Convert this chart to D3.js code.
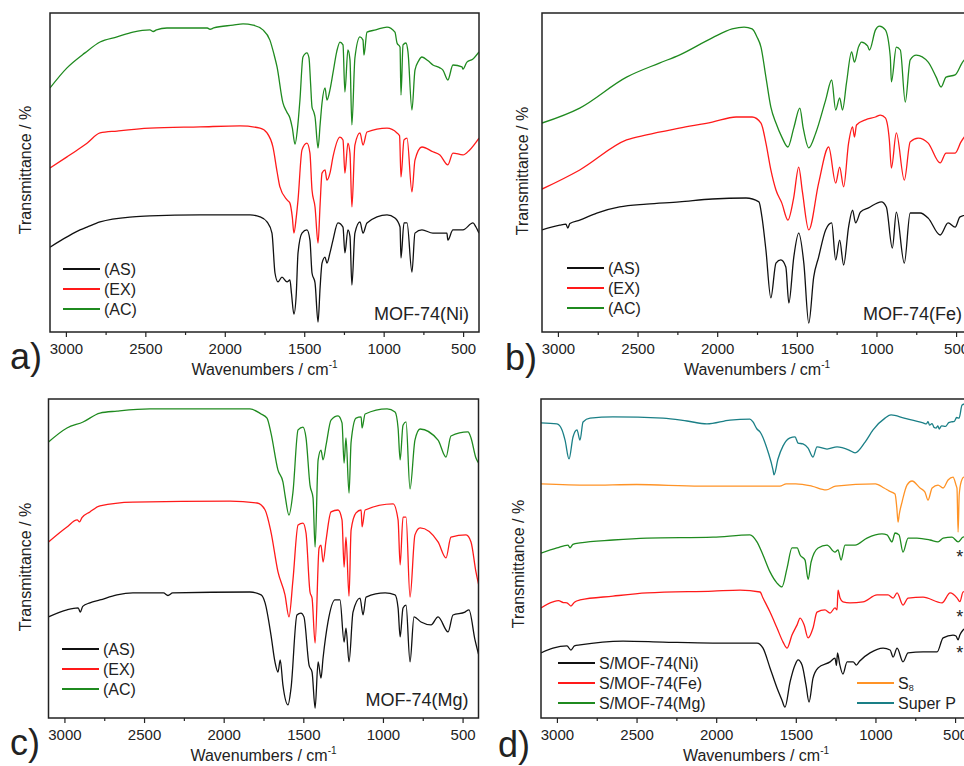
<!DOCTYPE html>
<html>
<head>
<meta charset="utf-8">
<script src="https://cdn.jsdelivr.net/npm/d3@7"></script>
<style>
  body { margin: 0; background: #fff; }
  svg { display: block; }
  text { font-family: "Liberation Sans", Arial, Helvetica, sans-serif; fill: #222; }
</style>
</head>
<body>
<svg id="chart" width="964" height="766"></svg>
<script>
// FTIR spectra: [wavenumber (cm-1), transmittance (offset, a.u.)]
const wavenumberDomain = [3100, 400];
const majorTicks = [3000, 2500, 2000, 1500, 1000, 500];
const minorTicks = [2750, 2250, 1750, 1250, 750];

// a) MOF-74(Ni)
const niAS = [[3100,26.6],[2993,29.8],[2911,32],[2867,32.9],[2785,34.5],[2578,36.1],[2471,36.4],[2156,36.7],[1841,36.7],[1778,36.1],[1734,34.5],[1703,31],[1684,18.5],[1665,15.7],[1640,17.2],[1608,15.7],[1590,16.3],[1580,12],[1565,5.6],[1550,12],[1539,24.8],[1514,31],[1483,32],[1464,28.8],[1451,18.5],[1432,15.4],[1413,3.1],[1400,14],[1388,21.6],[1369,23.5],[1357,21.6],[1338,24.8],[1319,28.8],[1288,34.2],[1256,32.9],[1244,24.8],[1225,32],[1212,30],[1200,14.7],[1181,31],[1149,34.5],[1130,31],[1105,34.2],[979,36.7],[929,35.7],[897,32.9],[891,23.2],[872,34.2],[853,34.2],[822,18.8],[803,31],[759,32],[690,31],[602,31],[596,28.8],[564,32],[501,32],[438,34.2],[420,33],[400,31]];
const niEX = [[3100,51.4],[2993,54.9],[2930,57],[2867,59.2],[2785,62.4],[2678,63],[2471,63.9],[2156,64.3],[1904,64.6],[1778,63.9],[1734,62.4],[1697,58],[1670,50],[1653,45.5],[1608,41.4],[1590,40.4],[1575,36],[1565,31],[1550,36],[1539,41.4],[1514,57.1],[1483,59.2],[1464,56.1],[1451,44.5],[1432,39.2],[1413,27.9],[1400,40],[1388,49.8],[1369,50.8],[1357,47.6],[1338,49.8],[1319,54.9],[1275,61.1],[1256,60.2],[1244,49.8],[1225,59.2],[1212,56],[1200,39.2],[1181,58.6],[1149,62.4],[1130,58.6],[1105,62.7],[979,63.9],[916,62.4],[900,61.5],[891,48.6],[872,60.2],[853,60.8],[822,43.9],[803,53.9],[759,58],[690,56.5],[646,55.5],[596,52.4],[564,56.1],[501,55.5],[460,57],[400,60.8]];
const niAC = [[3100,76.5],[2993,82.8],[2880,87.5],[2785,90.9],[2678,92.5],[2578,94.0],[2471,94.7],[2450,94.2],[2430,94.7],[2364,95.3],[2200,95.3],[2110,95.3],[2093,94.9],[2070,95.3],[1948,96.2],[1885,96.6],[1822,96.2],[1760,94.7],[1716,91.5],[1690,87],[1671,83.1],[1634,71.8],[1610,69],[1590,67.1],[1575,64],[1558,58.9],[1540,65],[1527,72.7],[1508,86.2],[1483,87.5],[1470,85.9],[1460,78],[1451,70.5],[1440,69],[1432,67.4],[1413,57.7],[1400,65],[1388,71.8],[1369,76.5],[1357,72.7],[1338,75.9],[1319,81.2],[1295,88],[1275,90.9],[1256,90.0],[1244,75.2],[1225,88.4],[1212,85.3],[1200,64.9],[1181,85.9],[1149,92.5],[1130,91.5],[1124,86.8],[1105,94.0],[1050,94.7],[979,95.6],[929,94.0],[916,90.6],[897,89.3],[891,74.3],[878,90.0],[860,90.6],[847,87.8],[822,69.6],[803,82.1],[780,85],[759,86.2],[720,85],[690,83.7],[646,82.8],[627,82.1],[596,79.0],[564,83.7],[507,83.1],[501,82.4],[476,84.6],[440,85.5],[400,87.8]];

// b) MOF-74(Fe)
const feAS = [[3100,32.0],[2988,33.5],[2950,33.8],[2938,32.6],[2925,34],[2863,35.1],[2756,37.3],[2613,39.2],[2444,40.1],[2238,40.8],[2031,41.7],[1819,42.0],[1738,40.8],[1719,36.1],[1694,25.7],[1663,10.7],[1631,21.6],[1600,22.6],[1569,20.4],[1550,9.1],[1519,23.5],[1488,31.0],[1456,21.6],[1425,2.8],[1394,17.2],[1363,23.5],[1319,32.0],[1281,34.2],[1256,22.6],[1231,28.8],[1206,21.0],[1175,32.9],[1150,38.2],[1131,34.2],[1100,37.6],[1050,38.9],[969,40.8],[938,39.2],[900,26.3],[875,37.6],[825,21.6],[788,37.3],[725,37.3],[675,35.7],[600,30.4],[550,34.2],[506,32.9],[475,36.1],[400,37]];
const feEX = [[3100,44.8],[2863,50.8],[2569,60.2],[2444,61.8],[2238,63.9],[2031,65.8],[1881,67.4],[1781,67.4],[1725,65.5],[1694,59.2],[1663,50.8],[1631,44.5],[1594,40.4],[1556,35.1],[1520,42],[1488,51.7],[1465,44],[1425,32.0],[1363,46.7],[1300,58.0],[1256,46.7],[1231,51.7],[1206,45.5],[1175,59.2],[1150,64.3],[1138,61.1],[1125,64.9],[1069,66.5],[1006,67.4],[975,68.0],[944,67.1],[919,60.2],[906,51.4],[875,62.4],[825,47.6],[788,59.6],[738,60.8],[675,59.2],[600,53.0],[563,56.1],[506,56.1],[469,59.6],[400,64]];
const feAC = [[3100,65.5],[2863,70.2],[2569,79.9],[2363,84.3],[2238,86.8],[2031,92.2],[1906,95],[1831,95.6],[1781,95],[1750,92.5],[1725,89.3],[1694,79.9],[1663,70.5],[1631,65.5],[1594,61.1],[1556,58],[1519,64],[1481,70.2],[1460,64],[1425,57.7],[1381,62.4],[1319,72.7],[1281,79],[1256,69.6],[1231,73.4],[1213,69.6],[1188,78.1],[1156,87.8],[1138,84.6],[1113,89.3],[1094,90.9],[1056,89.7],[1044,88.4],[1006,94.7],[981,95.9],[944,94.7],[913,86.2],[906,78.4],[875,89.3],[850,88.4],[819,72.1],[788,85.3],[750,86.8],[675,84.6],[625,79.9],[594,76.8],[563,79.9],[506,80.6],[463,84.3],[400,88]];

// c) MOF-74(Mg)
const mgAS = [[3100,31.7],[2984,33.9],[2914,34.5],[2900,33.2],[2885,35],[2840,36.1],[2777,37.0],[2670,38.6],[2570,39.2],[2378,39.2],[2350,38.4],[2320,39.2],[1835,39.5],[1765,38.6],[1740,36.1],[1703,26.0],[1678,17.6],[1659,14.4],[1645,18.2],[1628,10.3],[1596,4.1],[1577,9.4],[1540,32.3],[1515,32.9],[1496,31.7],[1464,16.6],[1445,14.4],[1426,3.1],[1407,17.6],[1389,12.5],[1376,18.8],[1345,30.1],[1301,37.0],[1270,37.0],[1244,23.8],[1232,28.2],[1213,17.6],[1188,33.2],[1144,37.6],[1125,32.3],[1106,37.9],[986,39.2],[924,38.6],[905,34.5],[892,25.4],[874,34.5],[855,35.4],[830,17.6],[805,31.7],[761,30.1],[698,29.2],[654,31.7],[591,27.0],[560,32.3],[485,33.2],[460,33.9],[422,24.5],[400,20]];
const mgEX = [[3100,55.2],[2984,59.9],[2920,62.1],[2905,61.5],[2890,62.8],[2840,64.6],[2777,66.5],[2570,67.7],[1960,68.0],[1790,67.4],[1740,65.2],[1703,58.3],[1659,45.8],[1615,38.6],[1590,31.7],[1565,43.3],[1533,60.5],[1502,61.1],[1483,58.0],[1458,39.5],[1445,37.6],[1426,23.5],[1401,53.3],[1389,54.2],[1376,48.9],[1357,55.8],[1326,64.6],[1282,65.2],[1257,62.1],[1244,47.3],[1232,56.7],[1213,38.2],[1200,58.9],[1169,64.3],[1137,65.2],[1131,59.9],[1112,65.2],[936,67.1],[905,62.1],[892,48.0],[874,63.0],[855,63.0],[830,37.9],[799,57.4],[767,59.6],[654,55.2],[604,50.2],[573,56.7],[478,57.4],[447,55.2],[416,45.8],[400,42]];
const mgAC = [[3100,86.5],[2984,90.9],[2883,92.8],[2777,95.6],[2670,96.2],[2463,96.9],[1835,96.9],[1765,95.3],[1728,94.0],[1703,89.3],[1659,77.7],[1628,74.0],[1615,69.9],[1590,63.6],[1565,70.8],[1533,90.3],[1502,91.2],[1483,87.8],[1458,73.0],[1439,69.0],[1426,53.6],[1407,80.9],[1389,84.0],[1376,80.9],[1357,85.6],[1326,93.4],[1282,94.7],[1257,92.5],[1244,79.9],[1232,87.8],[1213,70.5],[1200,86.5],[1169,94.0],[1137,94.4],[1131,90.9],[1112,95.3],[974,96.9],[924,95.9],[905,90.9],[892,80.9],[874,91.8],[855,92.8],[830,71.8],[799,87.1],[767,90.6],[654,87.1],[604,81.8],[573,88.4],[466,89.7],[447,87.8],[416,81.5],[400,80]];

// d) sulfur-loaded MOF-74 composites and references
const sNi = [[3100,20.4],[3025,21.9],[2937,22.6],[2912,21.3],[2890,22.6],[2855,22.9],[2585,24.1],[2334,23.8],[2020,23.5],[1744,23.5],[1706,21.9],[1662,15.7],[1618,9.4],[1587,5.6],[1568,3.4],[1536,11.3],[1505,16.6],[1486,18.2],[1461,16.6],[1436,10.3],[1417,5.0],[1392,12.5],[1360,15.7],[1285,17.6],[1254,18.8],[1245,16.5],[1238,20.4],[1225,17],[1204,13.8],[1178,17.6],[1140,17.6],[1120,16.6],[1100,17.8],[1034,20.4],[952,21.9],[908,21.3],[889,19.1],[864,21.9],[827,17.6],[795,20.4],[701,20.7],[613,20.7],[575,25.1],[513,26.0],[494,25.7],[481,24.5],[470,26],[450,27.6],[400,29]];
const sFe = [[3100,34.5],[3025,36.4],[2990,36.8],[2960,36.2],[2937,36.1],[2912,35.1],[2890,36.3],[2855,37.0],[2648,38.2],[2434,39.2],[2020,39.8],[1850,40.1],[1725,39.5],[1706,37.6],[1662,33.2],[1618,28.2],[1580,23.8],[1555,21.9],[1524,26.0],[1492,29.2],[1473,31.3],[1448,29.2],[1423,25.1],[1392,28.2],[1367,33.2],[1317,33.9],[1285,32.9],[1254,34.5],[1241,33.9],[1235,40.1],[1222,37.6],[1204,36.4],[1160,36.1],[1078,36.4],[990,38.6],[921,38.6],[889,37.6],[864,39.2],[827,35.4],[795,37.6],[701,37.9],[582,36.1],[531,39.2],[487,37.6],[470,36.5],[450,39.5],[400,40]];
const sMg = [[3100,51.7],[3000,53.3],[2930,54.2],[2918,53.3],[2900,54.4],[2855,54.9],[2648,55.8],[2434,56.4],[2020,56.7],[1788,57.4],[1744,55.2],[1706,51.1],[1662,45.8],[1618,42.3],[1587,41.1],[1555,47.0],[1524,53.3],[1492,53.3],[1473,51.1],[1442,49.5],[1423,43.5],[1404,48.9],[1360,53.3],[1304,54.2],[1254,52.0],[1235,52.7],[1216,49.5],[1191,54.2],[1128,54.2],[1053,56.4],[959,57.7],[927,57.4],[896,55.2],[877,58.0],[852,57.4],[827,52.0],[795,56.4],[739,56.4],[657,55.8],[607,55.2],[575,56.4],[519,56.7],[481,55.2],[450,56.7],[400,57]];
const sulfur = [[3100,73.4],[2800,73.0],[2500,73.2],[2100,72.7],[1800,72.7],[1600,72.7],[1560,73.4],[1500,73.4],[1400,72.7],[1310,71.5],[1250,72.7],[1000,73.4],[946,72.1],[915,71.2],[877,70.2],[866,66],[858,61.4],[850,64],[833,67.7],[802,73.0],[770,74.3],[720,72.1],[689,70.8],[670,68.3],[644,72.1],[607,73.0],[575,72.1],[544,74.6],[513,75.5],[494,73.0],[488,72],[481,58.3],[474,70],[462,74.0],[444,75.5],[400,75]];
const superP = [[3100,92.5],[3000,92.2],[2968,90.3],[2949,87.1],[2924,81.2],[2899,88.1],[2874,90.3],[2855,87.1],[2836,92.8],[2792,94.0],[2648,94.4],[2334,94.0],[2183,93.1],[2058,92.2],[1913,93.4],[1788,93.7],[1769,92.8],[1744,90.6],[1725,89.7],[1674,83.4],[1643,77.7],[1637,76.2],[1612,81.2],[1580,85.3],[1536,87.8],[1505,88.1],[1486,86.2],[1455,85.9],[1423,84.6],[1392,81.8],[1367,85.0],[1304,84.3],[1241,85.0],[1166,84.0],[1128,83.1],[1065,86.5],[1015,90.3],[940,94.0],[902,95.0],[820,94.0],[701,92.5],[680,92.2],[670,92.9],[660,91.8],[645,92.3],[630,91.0],[619,90.9],[608,91.6],[600,90.6],[585,91.6],[560,91.4],[540,92.6],[525,92.8],[505,93.0],[490,94.2],[475,94.0],[456,98.1],[400,99]];

// asterisks marking the S8 band near 470 cm-1
const starWavenumbers = [470, 470, 470];
const starValues = [52.0, 33.2, 21.9];

const C = { black: "#111111", red: "#ff1a1a", green: "#1f8a1f", orange: "#ff9326", teal: "#1a7f86" };

const panels = [
  { tag: "a)", name: "MOF-74(Ni)", left: 50, top: 13, width: 429, height: 319,
    series: [[niAC, C.green], [niEX, C.red], [niAS, C.black]],
    legend: [{ x: 13, y: 256, rows: [["(AS)", C.black], ["(EX)", C.red], ["(AC)", C.green]] }],
    tagPos: [10, 369], yTitle: [25, 170] },
  { tag: "b)", name: "MOF-74(Fe)", left: 542, top: 13, width: 430, height: 319,
    series: [[feAC, C.green], [feEX, C.red], [feAS, C.black]],
    legend: [{ x: 25, y: 255, rows: [["(AS)", C.black], ["(EX)", C.red], ["(AC)", C.green]] }],
    tagPos: [505, 370], yTitle: [522, 171] },
  { tag: "c)", name: "MOF-74(Mg)", left: 48.5, top: 399, width: 430, height: 319,
    series: [[mgAC, C.green], [mgEX, C.red], [mgAS, C.black]],
    legend: [{ x: 13.5, y: 250, rows: [["(AS)", C.black], ["(EX)", C.red], ["(AC)", C.green]] }],
    tagPos: [10, 755], yTitle: [25, 567] },
  { tag: "d)", name: null, left: 541, top: 399, width: 430, height: 319,
    series: [[superP, C.teal], [sulfur, C.orange], [sMg, C.green], [sFe, C.red], [sNi, C.black]],
    legend: [
      { x: 17, y: 264, rows: [["S/MOF-74(Ni)", C.black], ["S/MOF-74(Fe)", C.red], ["S/MOF-74(Mg)", C.green]] },
      { x: 316, y: 284, rows: [["S8", C.orange], ["Super P", C.teal]] }
    ],
    stars: true,
    tagPos: [498, 757], yTitle: [518, 564] }
];

const svg = d3.select("#chart");
const defs = svg.append("defs");

panels.forEach((p, i) => {
  const g = svg.append("g").attr("transform", `translate(${p.left},${p.top})`);
  const x = d3.scaleLinear().domain(wavenumberDomain).range([0, p.width]);
  const y = d3.scaleLinear().domain([0, 100]).range([p.height, 0]);

  defs.append("clipPath").attr("id", "clip" + i)
    .append("rect").attr("width", p.width).attr("height", p.height);

  const line = d3.line().x(d => x(d[0])).y(d => y(d[1])).curve(d3.curveMonotoneX);
  const plot = g.append("g").attr("clip-path", `url(#clip${i})`);
  p.series.forEach(([data, color]) => {
    plot.append("path").datum(data)
      .attr("d", line).attr("fill", "none")
      .attr("stroke", color).attr("stroke-width", 1.3)
      .attr("stroke-linejoin", "round");
  });

  // bottom axis: labelled major ticks and short minor ticks
  const axis = g.append("g").attr("transform", `translate(0,${p.height})`)
    .call(d3.axisBottom(x).tickValues(majorTicks).tickSize(5).tickPadding(6).tickFormat(d3.format("d")));
  axis.select(".domain").remove();
  axis.selectAll(".tick line").attr("stroke", "#222").attr("stroke-width", 1.2);
  axis.selectAll(".tick text").attr("font-size", 15).attr("fill", "#222")
    .attr("font-family", '"Liberation Sans", Arial, sans-serif');
  const minor = g.append("g").attr("transform", `translate(0,${p.height})`)
    .call(d3.axisBottom(x).tickValues(minorTicks).tickSize(3).tickFormat(""));
  minor.select(".domain").remove();
  minor.selectAll(".tick line").attr("stroke", "#222").attr("stroke-width", 1.2);

  // frame
  g.append("rect").attr("width", p.width).attr("height", p.height)
    .attr("fill", "none").attr("stroke", "#222").attr("stroke-width", 1.5);

  // axis titles
  const xt = g.append("text").attr("x", p.width / 2).attr("y", p.height + 43)
    .attr("text-anchor", "middle").attr("font-size", 16);
  xt.append("tspan").text("Wavenumbers / cm");
  xt.append("tspan").attr("dy", -7).attr("font-size", 10).text("-1");

  svg.append("text")
    .attr("transform", `translate(${p.yTitle[0]},${p.yTitle[1]}) rotate(-90)`)
    .attr("text-anchor", "middle").attr("dy", "0.35em").attr("font-size", 16)
    .text("Transmittance / %");

  // panel tag
  svg.append("text").attr("x", p.tagPos[0]).attr("y", p.tagPos[1])
    .attr("font-size", 36).attr("fill", "#111").text(p.tag);

  // sample name
  if (p.name) {
    g.append("text").attr("x", p.width - 10).attr("y", p.height - 12)
      .attr("text-anchor", "end").attr("font-size", 18).text(p.name);
  }

  // legends
  p.legend.forEach(L => {
    L.rows.forEach(([label, color], k) => {
      const ly = L.y + k * 20;
      g.append("line").attr("x1", L.x).attr("x2", L.x + 37).attr("y1", ly).attr("y2", ly)
        .attr("stroke", color).attr("stroke-width", 2);
      const t = g.append("text").attr("x", L.x + 41).attr("y", ly + 5.5).attr("font-size", 16);
      if (label === "S8") {
        t.append("tspan").text("S");
        t.append("tspan").attr("font-size", 9).attr("dy", 2).text("8");
      } else {
        t.text(label);
      }
    });
  });

  if (p.stars) {
    starWavenumbers.forEach((w, k) => {
      g.append("text").attr("x", x(w)).attr("y", y(starValues[k]) + 11)
        .attr("text-anchor", "middle").attr("font-size", 18).attr("fill", "#111").text("*");
    });
  }
});
</script>
</body>
</html>
